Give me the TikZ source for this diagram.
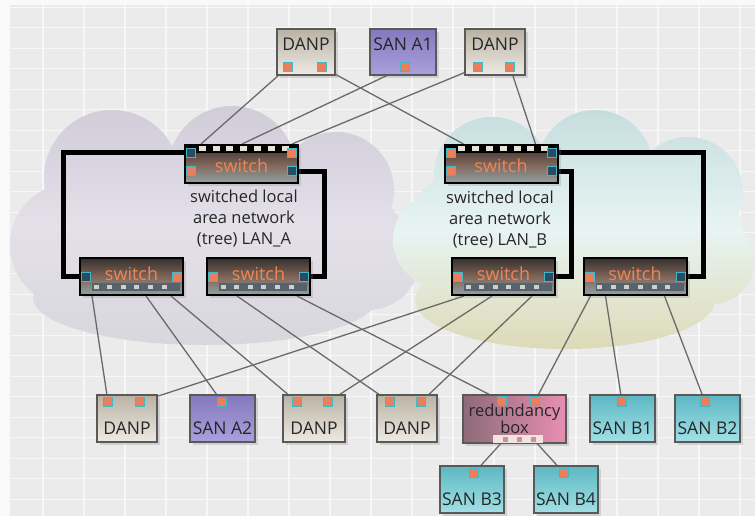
\documentclass[tikz,border=0pt]{standalone}
\usepackage{fontspec}
\setmainfont{Open Sans}
\usetikzlibrary{shadows,calc}
\pgfdeclarelayer{back}
\pgfsetlayers{back,main}

\definecolor{bgc}{HTML}{EBEBEB}
\definecolor{gridc}{HTML}{F7F7F7}
\definecolor{wirec}{HTML}{6A6A6A}
\definecolor{portor}{HTML}{EA7F5B}
\definecolor{portcy}{HTML}{3DB8CC}
\definecolor{portdk}{HTML}{2D4B5E}
\definecolor{swtxt}{HTML}{F08655}
\definecolor{swtop}{HTML}{34302E}
\definecolor{swmid}{HTML}{806458}
\definecolor{swbot}{HTML}{8FA2A3}
\definecolor{stripc}{HTML}{E8E2D6}
\definecolor{slatec}{HTML}{55636F}
\definecolor{danptop}{HTML}{BAB2A4}
\definecolor{danpbot}{HTML}{EDEAE3}
\definecolor{santop}{HTML}{8379BD}
\definecolor{sanbot}{HTML}{AC9FDC}
\definecolor{sbtop}{HTML}{5DB8C3}
\definecolor{sbbot}{HTML}{A2E0E6}
\definecolor{rbleft}{HTML}{8D6B78}
\definecolor{rbright}{HTML}{E88FB2}
\definecolor{rbstrip}{HTML}{F2E4E4}
\definecolor{rbsq}{HTML}{C99498}
\definecolor{cloudAtop}{HTML}{D0CCD8}
\definecolor{cloudAmid}{HTML}{E4E0EA}
\definecolor{cloudAbot}{HTML}{D8D7DC}
\definecolor{cloudBtop}{HTML}{C6DDDE}
\definecolor{cloudBmid}{HTML}{E8F4F3}
\definecolor{cloudBbot}{HTML}{DDDAB6}

\tikzset{
  lbl/.style={font=\fontsize{16.5}{20}\selectfont, text=black!85},
  boxfont/.style={font=\fontsize{17.5}{20}\selectfont, text=black!85},
  devbox/.style={draw=black!65, line width=1.3pt, inner sep=0pt, boxfont,
    drop shadow={opacity=0.25, shadow xshift=3pt, shadow yshift=-3pt}},
  topbox/.style={devbox, minimum height=46pt, text height=22pt, text depth=24pt},
  botbox/.style={devbox, minimum height=47pt, text height=39pt, text depth=8pt},
  danp/.style={top color=danptop, bottom color=danpbot},
  sana/.style={top color=santop, bottom color=sanbot},
  sanb/.style={top color=sbtop, bottom color=sbbot},
  port/.style={draw=portcy, line width=1pt, fill=portor, minimum size=9pt, inner sep=0pt},
  dport/.style={port, fill=portdk},
  tsq/.style={fill=stripc, minimum width=7pt, minimum height=5pt, inner sep=0pt},
  bsq/.style={fill=stripc!85!slatec, minimum width=5pt, minimum height=4pt, inner sep=0pt},
  switchbox/.style={draw=black, line width=2pt, inner sep=0pt,
    top color=swtop, bottom color=swbot, middle color=swmid,
    font=\fontsize{18}{20}\selectfont, text=swtxt,
    drop shadow={opacity=0.25, shadow xshift=3pt, shadow yshift=-3pt}},
  wire/.style={draw=wirec, line width=1.3pt},
  cable/.style={draw=black, line width=5pt},
  gridline/.style={draw=gridc, line width=1.2pt},
}

% switch with a port strip along its top edge and two ports on each side
\newcommand{\TopSwitch}[7]{%
  \node[switchbox, minimum width=113pt, minimum height=38pt, text height=17pt] (#1) at (#2,#3) {switch};
  \fill[black] (#1.north west) rectangle ($(#1.north east)+(0,9)$);
  \foreach \k in {1,...,7}
    \node[tsq] (#1-t\k) at ($(#1.north west)+(4.5+13.8*\k,5)$) {};
  \node[#4] (#1-L1) at ($(#1.north west)+(7,9)$) {};
  \node[#5] (#1-L2) at ($(#1.north west)+(7,27)$) {};
  \node[#6] (#1-R1) at ($(#1.north east)+(-7,9)$) {};
  \node[#7] (#1-R2) at ($(#1.north east)+(-7,27)$) {};
}
% switch with a port strip along its bottom edge and one port on each side
\newcommand{\BotSwitch}[5]{%
  \node[switchbox, minimum width=103pt, minimum height=37pt, text depth=6pt] (#1) at (#2,#3) {switch};
  \fill[slatec] ($(#1.north west)+(13,26)$) rectangle ($(#1.north east)+(-4,34)$);
  \foreach \k in {1,...,6}
    \node[bsq] (#1-b\k) at ($(#1.north west)+(3.5+13.6*\k,30)$) {};
  \node[#4] (#1-L) at ($(#1.west)+(7,0)$) {};
  \node[#5] (#1-R) at ($(#1.east)+(-7,0)$) {};
}

\begin{document}
\begin{tikzpicture}[x=1pt,y=-1pt]
\useasboundingbox (0,0) rectangle (755,516);

% ---------- backdrop, grid and the two LAN clouds ----------
\begin{pgfonlayer}{back}
  \fill[bgc] (0,0) rectangle (755,516);
  \fill[white!70!bgc] (0,0) rectangle (10,516);
  \fill[white!70!bgc] (0,0) rectangle (755,5);
  \foreach \x in {43,84,...,755} \draw[gridline] (\x,5) -- (\x,516);
  \foreach \y in {7,27.5,...,516} \draw[gridline, line width=0.8pt] (10,\y) -- (755,\y);

  % LAN_A cloud: a union of puffs
  \path[top color=cloudAtop, bottom color=cloudAbot, middle color=cloudAmid]
    (213,240) ellipse [x radius=190, y radius=95]
    (112,178) circle [radius=68]
    (232,170) circle [radius=64]
    (336,190) circle [radius=58]
    (72,245)  circle [radius=62]
    (368,258) circle [radius=52]
    (205,298) ellipse [x radius=172, y radius=47];
  % LAN_B cloud
  \path[top color=cloudBtop, bottom color=cloudBbot, middle color=cloudBmid]
    (572,238) ellipse [x radius=172, y radius=95]
    (492,175) circle [radius=58]
    (595,168) circle [radius=58]
    (688,192) circle [radius=55]
    (440,240) circle [radius=47]
    (712,262) circle [radius=42]
    (565,300) ellipse [x radius=150, y radius=49];
\end{pgfonlayer}

% ---------- LAN labels ----------
\node[lbl, align=center, font=\fontsize{16.5}{21}\selectfont] (lanA) at (244,219)
  {switched local\\area network\\(tree) LAN\_A};
\node[lbl, align=center, font=\fontsize{16.5}{21}\selectfont] (lanB) at (500,220)
  {switched local\\area network\\(tree) LAN\_B};

% ---------- switches ----------
\TopSwitch{swA1}{241.5}{164}{dport}{port}{port}{dport}
\TopSwitch{swB1}{501}{164}{port}{port}{dport}{dport}
\BotSwitch{swA2}{131.5}{276.5}{dport}{port}
\BotSwitch{swA3}{258.5}{276.5}{port}{dport}
\BotSwitch{swB2}{503.5}{276.5}{port}{dport}
\BotSwitch{swB3}{635}{276.5}{port}{dport}

% wire attachment points on the switch edges
\coordinate (swA1-a1) at ($(swA1.north west)+(17,0)$);
\coordinate (swA1-a2) at ($(swA1.north west)+(58,0)$);
\coordinate (swA1-a3) at ($(swA1.north west)+(108,0)$);
\coordinate (swB1-a1) at ($(swB1.north west)+(20,0)$);
\coordinate (swB1-a2) at ($(swB1.north west)+(92,0)$);
\coordinate (swA2-o1) at ($(swA2.south west)+(13,0)$);
\coordinate (swA2-o2) at ($(swA2.south west)+(67,0)$);
\coordinate (swA2-o3) at ($(swA2.south west)+(92,0)$);
\coordinate (swA3-o1) at ($(swA3.south west)+(31,0)$);
\coordinate (swA3-o2) at ($(swA3.south west)+(91,0)$);
\coordinate (swB2-o1) at ($(swB2.south west)+(13,0)$);
\coordinate (swB2-o2) at ($(swB2.south west)+(41,0)$);
\coordinate (swB2-o3) at ($(swB2.south west)+(81,0)$);
\coordinate (swB3-o1) at ($(swB3.south west)+(8,0)$);
\coordinate (swB3-o2) at ($(swB3.south west)+(23,0)$);
\coordinate (swB3-o3) at ($(swB3.south west)+(82,0)$);

% ---------- end devices at the top ----------
\node[topbox, danp, minimum width=58pt] (dt1) at (306,52) {DANP};
\node[port] (dt1-p1) at (288,67) {};
\node[port] (dt1-p2) at (322,67) {};
\node[topbox, sana, minimum width=66pt] (sa1) at (403,52) {SAN A1};
\node[port] (sa1-p) at (405,67) {};
\node[topbox, danp, minimum width=60pt] (dt2) at (495,52) {DANP};
\node[port] (dt2-p1) at (478,67) {};
\node[port] (dt2-p2) at (510,67) {};

% ---------- end devices at the bottom ----------
\node[botbox, danp, minimum width=60pt] (db1) at (127,418.5) {DANP};
\node[port] (db1-p1) at (108,402) {};
\node[port] (db1-p2) at (140,402) {};
\node[botbox, sana, minimum width=65pt] (sa2) at (222.5,418.5) {SAN A2};
\node[port] (sa2-p) at (222,402) {};
\node[botbox, danp, minimum width=62pt] (db2) at (314,418.5) {DANP};
\node[port] (db2-p1) at (297,402) {};
\node[port] (db2-p2) at (328,402) {};
\node[botbox, danp, minimum width=60pt] (db3) at (407,418.5) {DANP};
\node[port] (db3-p1) at (390,402) {};
\node[port] (db3-p2) at (421,402) {};

\node[devbox, minimum width=103pt, minimum height=48pt, left color=rbleft, right color=rbright,
      align=center, font=\fontsize{16.5}{15}\selectfont] (rb) at (514.5,419) {redundancy\\box};
\node[port] (rb-p1) at (502,401) {};
\node[port] (rb-p2) at (535,401) {};
\fill[rbstrip] (493,435) rectangle (543,443);
\node[fill=rbsq, minimum size=5pt, inner sep=0pt] (rb-s1) at (505,439) {};
\node[fill=rbsq, minimum size=5pt, inner sep=0pt] (rb-s2) at (519,439) {};
\node[fill=rbsq, minimum size=5pt, inner sep=0pt] (rb-s3) at (533,439) {};

\node[botbox, sanb, minimum width=65pt] (sb1) at (622.5,418.5) {SAN B1};
\node[port] (sb1-p) at (622,402) {};
\node[botbox, sanb, minimum width=65pt] (sb2) at (707.5,418.5) {SAN B2};
\node[port] (sb2-p) at (705,402) {};
\node[botbox, sanb, minimum width=64pt] (sb3) at (472,489.5) {SAN B3};
\node[port] (sb3-p) at (474,473) {};
\node[botbox, sanb, minimum width=64pt] (sb4) at (566,489.5) {SAN B4};
\node[port] (sb4-p) at (564,473) {};

% ---------- ring cables and wires, kept behind the devices ----------
\begin{pgfonlayer}{back}
  \draw[cable] (swA1-L1.center) -- ++(-128,0) |- (swA2-L.center);
  \draw[cable] (swA1-R2.center) -- ++(32,0) |- (swA3-R.center);
  \draw[cable] (swB1-R1.center) -- ++(152,0) |- (swB3-R.center);
  \draw[cable] (swB1-R2.center) -- ++(20,0) |- (swB2-R.center);

  \draw[wire] (dt1-p1.center) -- (swA1-a1);
  \draw[wire] (dt1-p2.center) -- (swB1-a1);
  \draw[wire] (sa1-p.center)  -- (swA1-a2);
  \draw[wire] (dt2-p1.center) -- (swA1-a3);
  \draw[wire] (dt2-p2.center) -- (swB1-a2);

  \draw[wire] (swA2-o1) -- (db1-p1.center);
  \draw[wire] (swA2-o2) -- (sa2-p.center);
  \draw[wire] (swA2-o3) -- (db2-p1.center);
  \draw[wire] (swA3-o1) -- (db3-p1.center);
  \draw[wire] (swA3-o2) -- (rb-p1.center);
  \draw[wire] (swB2-o1) -- (db1-p2.center);
  \draw[wire] (swB2-o2) -- (db2-p2.center);
  \draw[wire] (swB2-o3) -- (db3-p2.center);
  \draw[wire] (swB3-o1) -- (rb-p2.center);
  \draw[wire] (swB3-o2) -- (sb1-p.center);
  \draw[wire] (swB3-o3) -- (sb2-p.center);

  \draw[wire] (rb-s1.center) -- (sb3-p.center);
  \draw[wire] (rb-s3.center) -- (sb4-p.center);
\end{pgfonlayer}
\end{tikzpicture}
\end{document}
